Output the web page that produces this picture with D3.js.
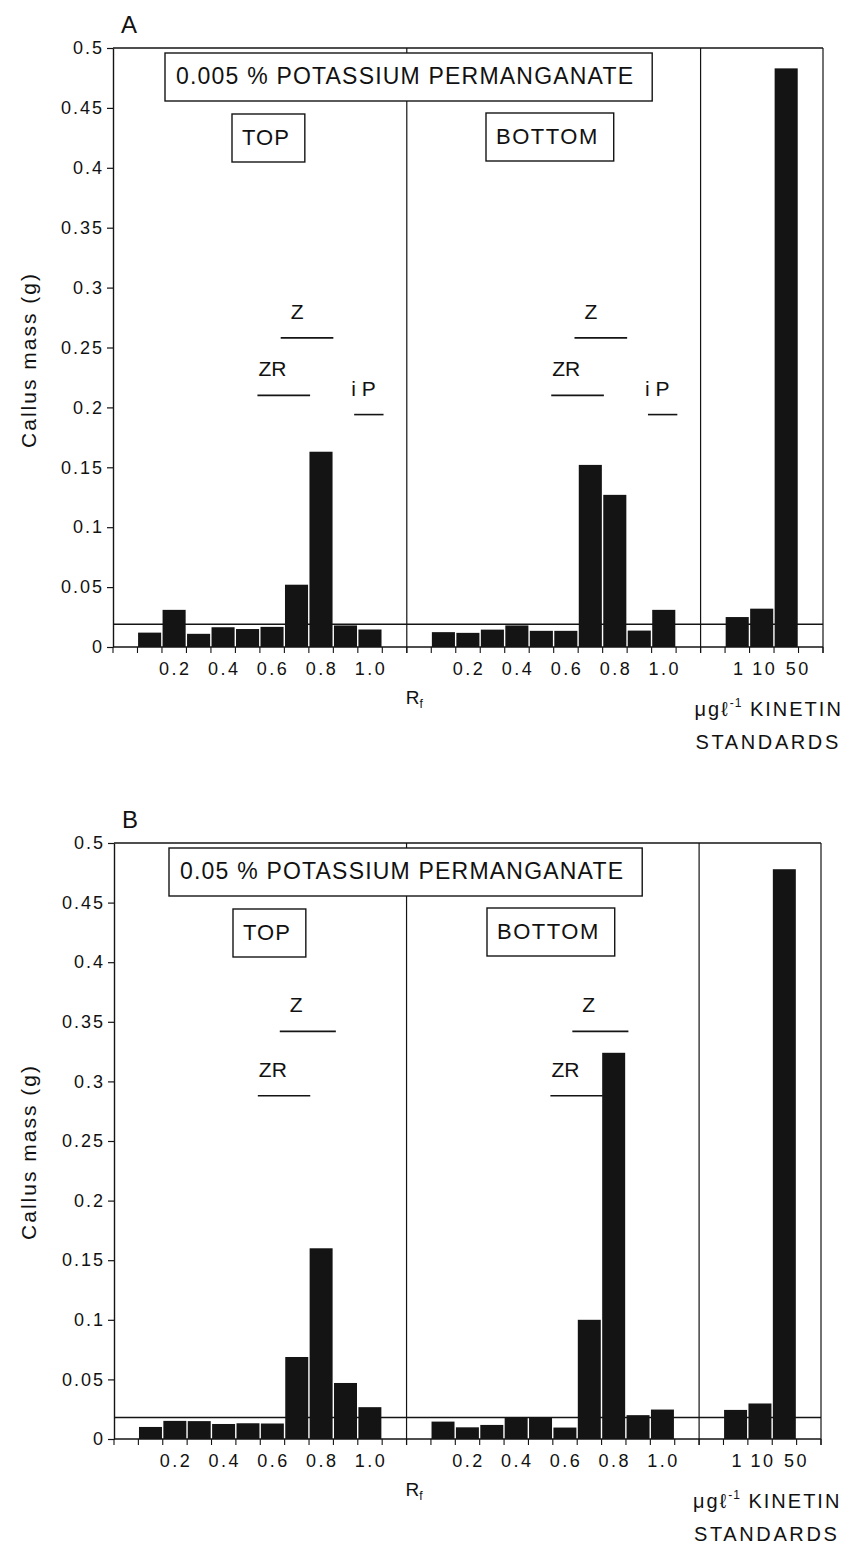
<!DOCTYPE html>
<html>
<head>
<meta charset="utf-8">
<script src="https://cdn.jsdelivr.net/npm/d3@7"></script>
<style>
  body { margin: 0; background: #fff; }
  text { font-family: "Liberation Sans", Arial, Helvetica, sans-serif; fill: #111; }
</style>
</head>
<body>
<svg id="fig" width="855" height="1549"></svg>
<script>
// ---- data -------------------------------------------------------------
// Rf fractions eluted from each half of the chromatogram
const rfFractions = [0.1, 0.2, 0.3, 0.4, 0.5, 0.6, 0.7, 0.8, 0.9, 1.0];
const rfTickLabels = ["0.2", "0.4", "0.6", "0.8", "1.0"];
const kinetinDoses = ["1", "10", "50"];
const yTickValues = [0, 0.05, 0.1, 0.15, 0.2, 0.25, 0.3, 0.35, 0.4, 0.45, 0.5];

// Panel A — 0.005 % potassium permanganate (callus mass, g)
const topA     = [0.012, 0.031, 0.011, 0.0165, 0.015, 0.0168, 0.052, 0.163, 0.018, 0.0146];
const bottomA  = [0.0124, 0.0118, 0.0145, 0.018, 0.0135, 0.0135, 0.152, 0.127, 0.0137, 0.031];
const kinetinA = [0.025, 0.032, 0.483];
const controlA = 0.019;

// Panel B — 0.05 % potassium permanganate (callus mass, g)
const topB     = [0.0101, 0.0152, 0.015, 0.0126, 0.0132, 0.013, 0.0688, 0.16, 0.047, 0.0267];
const bottomB  = [0.0146, 0.0098, 0.0118, 0.018, 0.018, 0.0096, 0.1, 0.324, 0.02, 0.0247];
const kinetinB = [0.0244, 0.0298, 0.478];
const controlB = 0.018;

// Rf ranges of authentic cytokinin markers
const markerNames = ["Z", "ZR", "i P"];
const markerFromA = [0.685, 0.59, 0.985];
const markerToA   = [0.90, 0.805, 1.105];
const markerLevelA = [0.258, 0.21, 0.194];
const markerNamesB = ["Z", "ZR"];
const markerFromB = [0.68, 0.59];
const markerToB   = [0.91, 0.805];
const markerLevelB = [0.342, 0.288];

// ---- layout -----------------------------------------------------------
const STRIP_SLOTS = 12;              // empty slot + 10 fractions + empty slot
const TOTAL_SLOTS = 29;              // two strips + kinetin standards
const stripStart = { top: 0, bottom: 12, std: 24 };
const markerDx = { "Z": 10, "ZR": 1, "i P": -3 };
const doseLabelDx = [2, 3, 12];      // dose labels fan out under the standards

const svg = d3.select("#fig");
svg.append("rect").attr("width", 855).attr("height", 1549).attr("fill", "#fff");

const panels = [
  { letter: "A", pct: "0.005", top: topA, bottom: bottomA, kin: kinetinA, control: controlA,
    names: markerNames, from: markerFromA, to: markerToA, level: markerLevelA,
    x0: 113, x1: 823, yTop: 48, yZero: 647, titleX: 176, labelCenter: 360 },
  { letter: "B", pct: "0.05", top: topB, bottom: bottomB, kin: kinetinB, control: controlB,
    names: markerNamesB, from: markerFromB, to: markerToB, level: markerLevelB,
    x0: 114, x1: 821, yTop: 843, yZero: 1439, titleX: 180, labelCenter: 1152 }
];

const ink = "#141414";

panels.forEach(p => {
  const x = d3.scaleLinear().domain([0, TOTAL_SLOTS]).range([p.x0, p.x1]);
  const y = d3.scaleLinear().domain([0, 0.5]).range([p.yZero, p.yTop]);
  const g = svg.append("g");

  // frame: top edge, right edge, strip separators
  g.append("line").attr("x1", p.x0).attr("x2", p.x1).attr("y1", p.yTop).attr("y2", p.yTop)
    .attr("stroke", ink).attr("stroke-width", 1.4);
  [STRIP_SLOTS, 2 * STRIP_SLOTS, TOTAL_SLOTS].forEach(s => {
    g.append("line").attr("x1", x(s)).attr("x2", x(s)).attr("y1", p.yTop).attr("y2", p.yZero + 6)
      .attr("stroke", ink).attr("stroke-width", 1.2);
  });

  // marker ranges (drawn first so bars sit on top)
  ["top", "bottom"].forEach(strip => {
    p.names.forEach((name, i) => {
      const sx = x(stripStart[strip] + p.from[i] * 10);
      const ex = x(stripStart[strip] + p.to[i] * 10);
      const ly = y(p.level[i]);
      g.append("line").attr("x1", sx).attr("x2", ex).attr("y1", ly).attr("y2", ly)
        .attr("stroke", ink).attr("stroke-width", 1.6);
      g.append("text").attr("x", sx + markerDx[name]).attr("y", ly - 19)
        .attr("font-size", 21).text(name);
    });
  });

  // control level
  g.append("line").attr("x1", p.x0).attr("x2", p.x1)
    .attr("y1", y(p.control)).attr("y2", y(p.control))
    .attr("stroke", ink).attr("stroke-width", 1.4);

  // bars
  const bars = [];
  rfFractions.forEach((rf, i) => {
    bars.push({ slot: stripStart.top + Math.round(rf * 10), v: p.top[i] });
    bars.push({ slot: stripStart.bottom + Math.round(rf * 10), v: p.bottom[i] });
  });
  kinetinDoses.forEach((d, j) => bars.push({ slot: stripStart.std + j + 1, v: p.kin[j] }));
  g.selectAll("rect.bar").data(bars).enter().append("rect").attr("class", "bar")
    .attr("x", d => x(d.slot) + 0.6)
    .attr("width", d => x(d.slot + 1) - x(d.slot) - 1.4)
    .attr("y", d => y(d.v))
    .attr("height", d => y(0) - y(d.v))
    .attr("fill", ink);

  // y axis
  const yAxis = d3.axisLeft(y).tickValues(yTickValues).tickFormat(d3.format("~g"))
    .tickSize(6).tickSizeOuter(0).tickPadding(3);
  const ya = g.append("g").attr("transform", `translate(${p.x0},0)`).call(yAxis);
  ya.select(".domain").attr("stroke", ink).attr("stroke-width", 1.4);
  ya.selectAll(".tick line").attr("stroke", ink).attr("stroke-width", 1.2);
  ya.selectAll(".tick text").attr("font-size", 18).attr("letter-spacing", 2)
    .attr("fill", "#111").style("font-family", "'Liberation Sans', Arial, sans-serif");

  // x axis: baseline with a tick at every fraction boundary
  const xa = g.append("g").attr("transform", `translate(0,${p.yZero})`);
  xa.append("line").attr("x1", p.x0).attr("x2", p.x1).attr("stroke", ink).attr("stroke-width", 1.5);
  xa.selectAll("line.tk").data(d3.range(0, TOTAL_SLOTS + 1)).enter().append("line")
    .attr("class", "tk").attr("x1", d => x(d)).attr("x2", d => x(d))
    .attr("y1", 0).attr("y2", 6).attr("stroke", ink).attr("stroke-width", 1.1);

  const xLabels = [];
  ["top", "bottom"].forEach(strip => {
    rfTickLabels.forEach(t => xLabels.push({ pos: stripStart[strip] + (+t) * 10 + 0.5, t, dx: 1 }));
  });
  kinetinDoses.forEach((t, j) => xLabels.push({ pos: stripStart.std + j + 1.5, t, dx: doseLabelDx[j] }));
  xa.selectAll("text.xl").data(xLabels).enter().append("text").attr("class", "xl")
    .attr("x", d => x(d.pos) + d.dx).attr("y", 28)
    .attr("text-anchor", "middle").attr("font-size", 18).attr("letter-spacing", 2.5)
    .text(d => d.t);

  // axis titles
  const rf = g.append("text").attr("x", x(STRIP_SLOTS) - 1).attr("y", p.yZero + 57)
    .attr("font-size", 19);
  rf.append("tspan").text("R");
  rf.append("tspan").attr("font-size", 12).attr("dy", 4).text("f");

  const kin = g.append("text").attr("x", x(stripStart.std) - 6).attr("y", p.yZero + 69)
    .attr("font-size", 20).attr("letter-spacing", 2);
  kin.append("tspan").text("\u03bcg\u2113");
  kin.append("tspan").attr("font-size", 12).attr("dy", -9).attr("letter-spacing", 1).text("-1");
  kin.append("tspan").attr("dy", 9).text(" KINETIN");
  g.append("text").attr("x", x(stripStart.std) - 5).attr("y", p.yZero + 102)
    .attr("font-size", 20).attr("letter-spacing", 2.6).text("STANDARDS");

  g.append("text")
    .attr("transform", `translate(36,${p.labelCenter}) rotate(-90)`)
    .attr("text-anchor", "middle").attr("font-size", 21).attr("letter-spacing", 2)
    .text("Callus mass (g)");

  // panel letter
  g.append("text").attr("x", p.x0 + 8).attr("y", p.yTop - 15).attr("font-size", 24).text(p.letter);

  // boxed captions
  function boxed(txt, tx, baseline, size, spacing, padL, padR) {
    const box = g.append("rect");
    const t = g.append("text").attr("x", tx).attr("y", baseline)
      .attr("font-size", size).attr("letter-spacing", spacing).text(txt);
    const bb = t.node().getBBox();
    box.attr("x", tx - padL).attr("y", baseline - 31)
      .attr("width", bb.width + padL + padR).attr("height", 48)
      .attr("fill", "#fff").attr("stroke", ink).attr("stroke-width", 1.4);
  }
  boxed(`${p.pct} % POTASSIUM PERMANGANATE`, p.titleX, p.yTop + 36, 23, 1.2, 11, 18);
  boxed("TOP", p.x0 + 129, p.yTop + 97, 22, 1, 10, 15);
  boxed("BOTTOM", p.x0 + 383, p.yTop + 96, 22, 1.5, 10, 15);
});
</script>
</body>
</html>
